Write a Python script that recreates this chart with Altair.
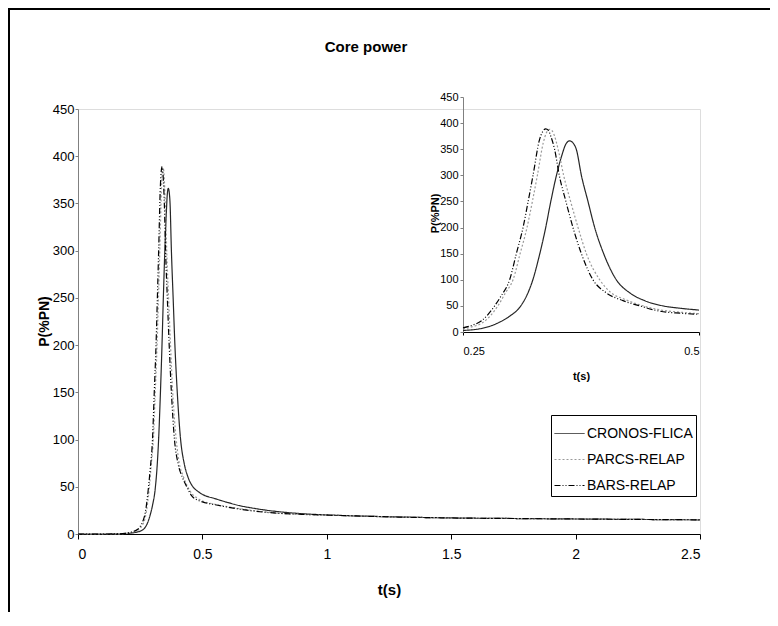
import altair as alt
import pandas as pd

# ---- data ----
series_names = ["CRONOS-FLICA", "PARCS-RELAP", "BARS-RELAP"]

cronos_t = [0.0, 0.10, 0.15, 0.18, 0.20, 0.22, 0.24, 0.25, 0.27, 0.28, 0.29, 0.30, 0.31, 0.32,
            0.324, 0.33, 0.3376, 0.343, 0.349, 0.355, 0.359, 0.363, 0.367, 0.370, 0.3754,
            0.3824, 0.3895, 0.399, 0.4124, 0.4266, 0.4424, 0.4619, 0.48, 0.50, 0.55, 0.60,
            0.65, 0.70, 0.80, 0.90, 1.0, 1.2, 1.5, 1.8, 2.1, 2.5]
cronos_p = [0.0, 0.0, 0.05, 0.2, 0.6, 1.2, 2.2, 3.0, 7.0, 12, 20, 31, 47, 80,
            100, 140, 200, 250, 300, 340, 360, 366, 361, 350, 300,
            250, 200, 150, 100, 75, 60, 50, 45.5, 42, 37.5, 33.5,
            30, 27.5, 23.8, 21.5, 20.2, 18.6, 17, 16.3, 15.7, 15]

parcs_t = [0.0, 0.10, 0.15, 0.18, 0.20, 0.22, 0.24, 0.25, 0.26, 0.27, 0.287, 0.295, 0.303,
           0.3105, 0.3178, 0.3235, 0.3288, 0.335, 0.3385, 0.3418, 0.3445, 0.347, 0.352,
           0.3566, 0.364, 0.3719, 0.3807, 0.3948, 0.4071, 0.422, 0.4407, 0.46, 0.48, 0.50,
           0.55, 0.60, 0.70, 0.80, 0.90, 1.0, 1.2, 1.5, 1.8, 2.1, 2.5]
parcs_p = [0.0, 0.0, 0.08, 0.4, 1.0, 2.0, 4.0, 6.0, 10, 17, 50, 75, 100,
           150, 200, 250, 300, 362, 382, 388, 385, 375, 340,
           300, 250, 200, 150, 100, 75, 62, 50, 42, 38, 35,
           31.5, 29, 25, 22.2, 20.8, 20, 18.5, 17, 16.3, 15.7, 15]

bars_t = [0.0, 0.10, 0.15, 0.18, 0.20, 0.22, 0.24, 0.25, 0.26, 0.27, 0.2835, 0.29, 0.2994,
          0.3065, 0.3136, 0.319, 0.3242, 0.331, 0.3345, 0.3376, 0.3405, 0.343, 0.347, 0.352,
          0.359, 0.3665, 0.3754, 0.3877, 0.4018, 0.4195, 0.4372, 0.458, 0.48, 0.50, 0.55,
          0.60, 0.70, 0.80, 0.90, 1.0, 1.2, 1.5, 1.8, 2.1, 2.5]
bars_p = [0.0, 0.0, 0.1, 0.5, 1.2, 2.5, 5.0, 8.0, 13, 22, 50, 68, 100,
          150, 200, 250, 300, 368, 384, 389, 386, 375, 350, 300,
          250, 200, 150, 100, 75, 60, 50, 40, 36, 34, 31,
          28.5, 24.5, 22, 20.8, 20, 18.5, 17, 16.3, 15.7, 15]

main_x_ticks = [0, 0.5, 1, 1.5, 2, 2.5]
main_y_ticks = [0, 50, 100, 150, 200, 250, 300, 350, 400, 450]
inset_x_ticks = [0.25, 0.5]
inset_y_ticks = [0, 50, 100, 150, 200, 250, 300, 350, 400, 450]
chart_title = "Core power"

rows = []
for name, ts, ps in zip(series_names, [cronos_t, parcs_t, bars_t], [cronos_p, parcs_p, bars_p]):
    for t, p in zip(ts, ps):
        rows.append({"t": t, "P": p, "series": name})
df = pd.DataFrame(rows)
df_inset = df[(df["t"] >= 0.25) & (df["t"] <= 0.5)]

FONT = "Liberation Sans, Arial"
FONT_B = "Liberation Sans, Arial"

W, H = 622, 425

legend_spec = alt.Legend(
    title=None, orient="none", legendX=473, legendY=306,
    symbolType="stroke", symbolSize=900, symbolStrokeWidth=1,
    labelFont=FONT_B, labelFontSize=14, labelColor="black", labelOffset=2,
    rowPadding=3, padding=3, strokeColor="black", fillColor="white",
)
color_enc = alt.Color(
    "series:N",
    scale=alt.Scale(domain=series_names, range=["#262626", "#9a9a9a", "#000000"]),
    legend=legend_spec,
)
dash_enc = alt.StrokeDash(
    "series:N",
    scale=alt.Scale(domain=series_names, range=[[1, 0], [2, 2], [6, 2, 1, 2, 1, 2]]),
    legend=legend_spec,
)

one_row = pd.DataFrame({"a": [0]})
frame_top = alt.Chart(one_row).mark_rule(color="black", strokeWidth=2).encode(
    x=alt.value(-70), x2=alt.value(692), y=alt.value(-100))
frame_left = alt.Chart(one_row).mark_rule(color="black", strokeWidth=2).encode(
    x=alt.value(-69), y=alt.value(-101), y2=alt.value(503))
title_text = alt.Chart(one_row).mark_text(
    font=FONT_B, fontSize=15, fontWeight="bold", color="black",
    align="center", baseline="middle").encode(
    x=alt.value(288), y=alt.value(-62), text=alt.value(chart_title))

label_expr = "'' + datum.value"

main_lines = alt.Chart(df).mark_line(strokeWidth=1.2, interpolate="monotone").encode(
    x=alt.X("t:Q", scale=alt.Scale(domain=[0, 2.5], nice=False),
            axis=alt.Axis(title="t(s)", values=main_x_ticks, labelExpr=label_expr, grid=False,
                          labelFont=FONT, labelFontSize=14, labelColor="black",
                          labelPadding=8, tickSize=5, tickColor="black",
                          domainColor="black", titleFont=FONT_B, titleFontSize=15,
                          titleFontWeight="bold", titleBaseline="middle", titleY=55,
                          titleColor="black")),
    y=alt.Y("P:Q", scale=alt.Scale(domain=[0, 450], nice=False),
            axis=alt.Axis(title="P(%PN)", values=main_y_ticks, grid=False,
                          labelFont=FONT, labelFontSize=13, labelColor="black",
                          labelPadding=1, tickSize=3, tickColor="#808080",
                          domainColor="#808080", titleFont=FONT_B, titleFontSize=14,
                          titleFontWeight="bold", titleX=-34, titleY=212,
                          titleBaseline="middle", titleColor="black")),
    color=color_enc,
    strokeDash=dash_enc,
)

inset_lines = alt.Chart(df_inset).mark_line(strokeWidth=1.2, interpolate="monotone").encode(
    x=alt.X("t:Q", scale=alt.Scale(domain=[0.25, 0.5], nice=False, range=[385, 621]),
            axis=alt.Axis(title="t(s)", orient="bottom", offset=-202, values=inset_x_ticks,
                          labelExpr=label_expr, grid=False, labelFont=FONT, labelFontSize=11,
                          labelColor="black", labelPadding=10, tickSize=3,
                          tickColor="black", domainColor="black", titleFont=FONT_B,
                          titleFontSize=11, titleFontWeight="bold",
                          titleBaseline="middle", titleY=44, titleColor="black")),
    y=alt.Y("P:Q", scale=alt.Scale(domain=[0, 450], nice=False, range=[223, -12]),
            axis=alt.Axis(title="P(%PN)", orient="left", offset=-385, values=inset_y_ticks,
                          grid=False, labelFont=FONT, labelFontSize=11,
                          labelColor="black", labelPadding=2, tickSize=3,
                          tickColor="#808080", domainColor="#808080",
                          titleFont=FONT_B, titleFontSize=11, titleFontWeight="bold",
                          titleX=-28, titleY=104, titleBaseline="middle",
                          titleColor="black")),
    color=color_enc,
    strokeDash=dash_enc,
)

main = alt.layer(frame_top, frame_left, title_text, main_lines)
chart = alt.layer(main, inset_lines).resolve_scale(
    x="independent", y="independent"
).properties(
    width=W, height=H,
    padding={"left": 70, "top": 101, "right": 70, "bottom": 78},
    autosize=alt.AutoSizeParams(type="none"),
).configure_view(stroke=None).configure(background="white")

chart.save("out.html", embed_options={"renderer": "svg", "actions": False})
